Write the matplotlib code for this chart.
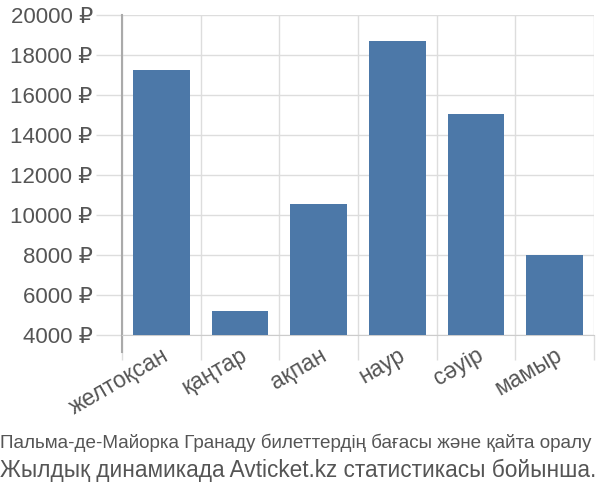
import matplotlib
matplotlib.use("Agg")
import matplotlib.pyplot as plt
import numpy as np

months = ["желтоқсан", "қаңтар", "ақпан", "наур", "сәуір", "мамыр"]
prices = [17250, 5200, 10550, 18700, 15050, 8000]
yticks = [4000, 6000, 8000, 10000, 12000, 14000, 16000, 18000, 20000]
caption1 = "Пальма-де-Майорка Гранаду билеттердің бағасы және қайта оралу"
caption2 = "Жылдық динамикада Avticket.kz статистикасы бойынша."

plt.rcParams['font.family'] = ['Liberation Sans', 'DejaVu Sans']

fig = plt.figure(figsize=(6, 5), dpi=100)
ax = fig.add_axes([0.2033, 0.33, 0.7867, 0.64])

x = np.arange(len(months))
ax.bar(x, prices, width=0.72, color='#4c78a8', zorder=3)

ax.set_xlim(-0.5, len(months) - 0.5)
ax.set_ylim(4000, 20000)

# y axis
ax.set_yticks(yticks)
ax.set_yticklabels([f"{v} ₽" for v in yticks], fontsize=16)
ax.yaxis.grid(True, color='#dddddd', lw=1, zorder=0)

# x axis: labels at centers, ticks/grid at boundaries
ax.set_xticks(x)
ax.set_xticklabels(months, rotation=30, ha='right', rotation_mode='anchor',
                   fontsize=16.5)
ax.set_xticks(np.arange(-0.5, len(months)), minor=True)
ax.xaxis.grid(True, which='minor', color='#dddddd', lw=1, zorder=0)
ax.tick_params(axis='x', which='major', length=0, pad=6)
ax.tick_params(axis='x', which='minor', length=18, color='#dddddd', width=1)
ax.tick_params(axis='y', length=19, color='#dddddd', width=1, pad=2)
ax.tick_params(labelcolor='#555555')

for s in ['top', 'right']:
    ax.spines[s].set_visible(False)
ax.spines['left'].set_color('#aaaaaa')
ax.spines['left'].set_linewidth(1.5)
ax.spines['left'].set_bounds(3150, 20000)
ax.spines['bottom'].set_color('#cccccc')

fig.text(0.0, 0.103, caption1, fontsize=13.6, color='#555555')
fig.text(0.0, 0.045, caption2, fontsize=16.3, color='#555555')

fig.savefig("out.png", dpi=100)
